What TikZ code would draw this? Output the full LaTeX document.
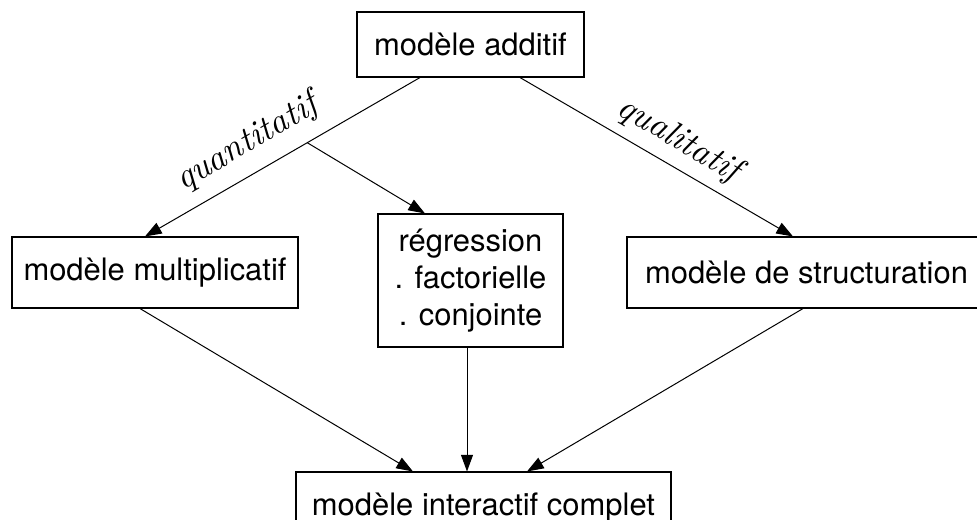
\documentclass[tikz,border=0pt]{standalone}
\usepackage{fontspec}
\setsansfont{TeX Gyre Heros}
\newfontfamily\branchfont{lmroman10-italic.otf}
\usetikzlibrary{arrows.meta,calc}

\tikzset{
  box/.style={draw, line width=0.8pt, inner sep=0pt, align=center,
    font=\sffamily\fontsize{23.2}{27.5}\selectfont},
  branch/.style={font=\branchfont\fontsize{26.5}{30}\selectfont, inner sep=0pt},
  link/.style={line width=0.75pt, -{Triangle[length=12.5pt,width=9pt]}}
}

\begin{document}
\begin{tikzpicture}[x=0.75pt, y=-0.75pt]
  \useasboundingbox (0,0) rectangle (977,519);
  \clip (0,0) rectangle (977,519);

  % boxes
  \node[box, minimum width=227*0.75pt, minimum height=65*0.75pt] (add) at (470.5,44.5) {modèle additif};
  \node[box, minimum width=286*0.75pt, minimum height=71*0.75pt] (mult) at (155,272.5) {modèle multiplicatif};
  \node[box, minimum width=185*0.75pt, minimum height=133*0.75pt] (reg) at (470.5,280.5)
    {régression\\ . factorielle\\ . conjointe};
  \node[box, minimum width=359*0.75pt, minimum height=71*0.75pt] (struct) at (806.5,272.5) {modèle de structuration};
  \node[box, minimum width=375*0.75pt, minimum height=71*0.75pt] (inter) at (483.5,507.5) {modèle interactif complet};

  % branch labels
  \node[branch, rotate=30.5] (lq) at (247,143) {quantitatif};
  \node[branch, rotate=-30.5] (ll) at (679,140) {qualitatif};

  % upper connectors
  \coordinate (qa) at ([xshift=-50.5*0.75pt]add.south);
  \coordinate (qb) at ([xshift=-10*0.75pt]mult.north);
  \coordinate (fork) at ($(qa)!0.41!(qb)$);
  \draw[link] (qa) -- (qb);
  \draw[link] (fork) -- ([xshift=-45.5*0.75pt]reg.north);
  \draw[link] ([xshift=49.5*0.75pt]add.south) -- ([xshift=-13.5*0.75pt]struct.north);

  % lower connectors
  \draw[link] ([xshift=-15*0.75pt]mult.south) -- ([xshift=-70.5*0.75pt]inter.north);
  \draw[link] ([xshift=-3.5*0.75pt]reg.south) -- ([xshift=-16.5*0.75pt]inter.north);
  \draw[link] ([xshift=-3.5*0.75pt]struct.south) -- ([xshift=43.5*0.75pt]inter.north);
\end{tikzpicture}
\end{document}
